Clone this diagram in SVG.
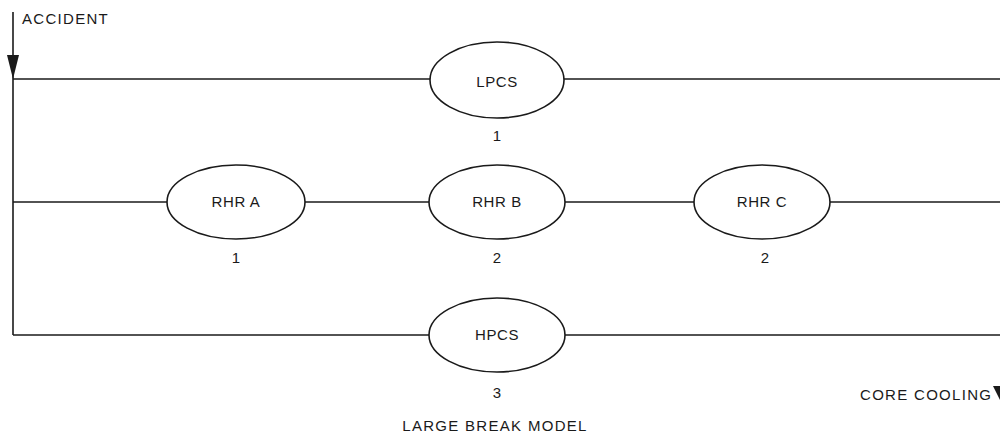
<svg xmlns="http://www.w3.org/2000/svg" width="1000" height="435" viewBox="0 0 1000 435">
  <style>
    .ln { stroke: #1a1a1a; stroke-width: 1.6; fill: none; }
    .node { stroke: #1a1a1a; stroke-width: 1.6; fill: #ffffff; }
    .lbl { font-family: "Liberation Sans", Arial, sans-serif; font-size: 15px; fill: #1a1a1a; text-anchor: middle; letter-spacing: 0.6px; }
    .num { font-family: "Liberation Sans", Arial, sans-serif; font-size: 15px; fill: #1a1a1a; text-anchor: middle; }
    .cap { font-family: "Liberation Sans", Arial, sans-serif; font-size: 15px; fill: #1a1a1a; letter-spacing: 1.3px; }
    .head { fill: #1a1a1a; }
  </style>
  <rect width="1000" height="435" fill="#ffffff"/>

  <!-- connectors: accident input, bus and three parallel trains -->
  <g id="connectors">
    <line class="ln" x1="13" y1="12" x2="13" y2="335"/>
    <polygon class="head" points="7,55 19,55 13,79"/>
    <line class="ln" x1="13" y1="79" x2="1000" y2="79"/>
    <line class="ln" x1="13" y1="202" x2="1000" y2="202"/>
    <line class="ln" x1="13" y1="335" x2="1000" y2="335"/>
    <polygon class="head" points="993,386 1008,386 1000,400"/>
  </g>

  <g id="node-lpcs">
    <ellipse class="node" cx="497" cy="80" rx="67" ry="38"/>
    <text class="lbl" x="497" y="87">LPCS</text>
    <text class="num" x="497" y="141">1</text>
  </g>

  <g id="node-rhr-a">
    <ellipse class="node" cx="236" cy="202" rx="69" ry="37"/>
    <text class="lbl" x="236" y="207" letter-spacing="1.4">RHR A</text>
    <text class="num" x="236" y="263">1</text>
  </g>

  <g id="node-rhr-b">
    <ellipse class="node" cx="497" cy="202" rx="68" ry="37"/>
    <text class="lbl" x="497" y="207" letter-spacing="1.4">RHR B</text>
    <text class="num" x="497" y="263">2</text>
  </g>

  <g id="node-rhr-c">
    <ellipse class="node" cx="762" cy="202" rx="68" ry="37"/>
    <text class="lbl" x="762" y="207" letter-spacing="1.4">RHR C</text>
    <text class="num" x="765" y="263">2</text>
  </g>

  <g id="node-hpcs">
    <ellipse class="node" cx="497" cy="335" rx="68" ry="37"/>
    <text class="lbl" x="497" y="340">HPCS</text>
    <text class="num" x="497" y="398">3</text>
  </g>

  <g id="captions">
    <text class="cap" x="22" y="24">ACCIDENT</text>
    <text class="cap" x="860" y="400">CORE COOLING</text>
    <text class="cap" x="495" y="431" text-anchor="middle" letter-spacing="1.4">LARGE BREAK MODEL</text>
  </g>
</svg>
